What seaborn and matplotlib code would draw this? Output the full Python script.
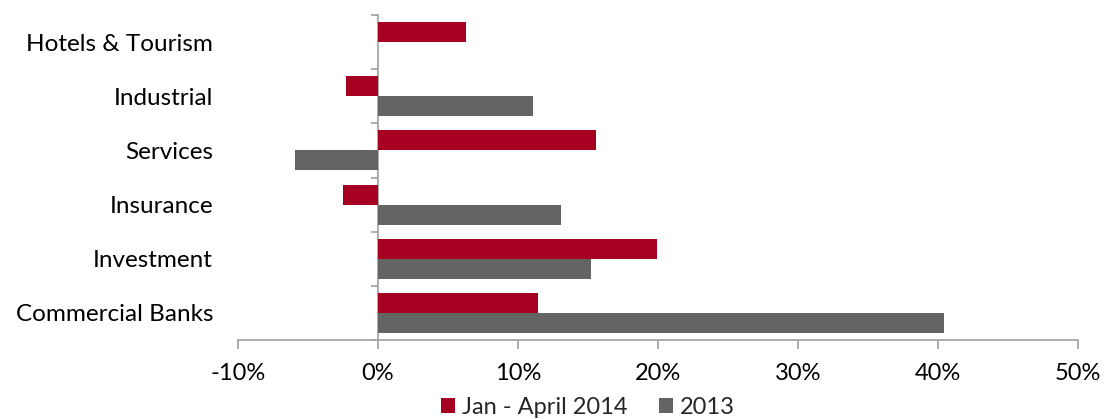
import matplotlib
matplotlib.use("Agg")
import matplotlib.pyplot as plt
import seaborn as sns
import pandas as pd
from matplotlib.ticker import FuncFormatter, FixedLocator, NullFormatter

categories = ["Hotels & Tourism", "Industrial", "Services", "Insurance", "Investment", "Commercial Banks"]
series_names = ["Jan - April 2014", "2013"]
values_2014 = [6.3, -2.3, 15.6, -2.5, 19.9, 11.4]
values_2013 = [0.0, 11.1, -5.9, 13.1, 15.2, 40.4]
x_ticks = [-10, 0, 10, 20, 30, 40, 50]
colors = ["#A50021", "#646464"]

sns.set_style("white")
plt.rcParams["font.family"] = ["Lato", "DejaVu Sans"]

df = pd.DataFrame({
    "category": categories * 2,
    "series": [series_names[0]] * len(categories) + [series_names[1]] * len(categories),
    "value": values_2014 + values_2013,
})

fig = plt.figure(figsize=(11.19, 4.19), dpi=100)
ax = fig.add_axes([238 / 1119, 1 - 340 / 419, (1078 - 238) / 1119, (340 - 15) / 419])

sns.barplot(data=df, y="category", x="value", hue="series", order=categories,
            hue_order=series_names, palette=colors, orient="h", width=0.74,
            ax=ax, linewidth=0, saturation=1, legend=True)

ax.set_xlim(x_ticks[0], x_ticks[-1])
ax.set_ylim(len(categories) - 0.5, -0.5)
ax.set_xticks(x_ticks)
ax.xaxis.set_major_formatter(FuncFormatter(lambda v, p: f"{v:.0f}%"))
ax.set_xlabel("")
ax.set_ylabel("")

axis_color = "#A6A6A6"
for s in ["top", "right", "left"]:
    ax.spines[s].set_visible(False)
ax.spines["bottom"].set_color(axis_color)
ax.spines["bottom"].set_linewidth(1.3)
ax.tick_params(axis="x", direction="out", length=6.5, width=1.3, color=axis_color,
               pad=10, labelsize=17, labelcolor="black", bottom=True)
ax.tick_params(axis="y", length=0, pad=18, labelsize=17.5, labelcolor="black")

# zero axis with category-boundary ticks
zero_loc = (0 - x_ticks[0]) / (x_ticks[-1] - x_ticks[0])
sec = ax.secondary_yaxis(zero_loc)
sec.yaxis.set_major_locator(FixedLocator([i - 0.5 for i in range(len(categories) + 1)]))
sec.yaxis.set_major_formatter(NullFormatter())
sec.spines["left"].set_color(axis_color)
sec.spines["left"].set_linewidth(1.3)
sec.tick_params(axis="y", direction="out", length=5, width=1.3, color=axis_color)

handles, labels = ax.get_legend_handles_labels()
ax.get_legend().remove()
fig.legend(handles, labels, loc="center", bbox_to_anchor=(588 / 1119, 1 - 407 / 419),
           ncol=2, frameon=False, fontsize=17, handlelength=0.6, handleheight=0.6,
           handletextpad=0.3, columnspacing=1.3, borderaxespad=0, borderpad=0)

fig.savefig("out.png", dpi=100)
